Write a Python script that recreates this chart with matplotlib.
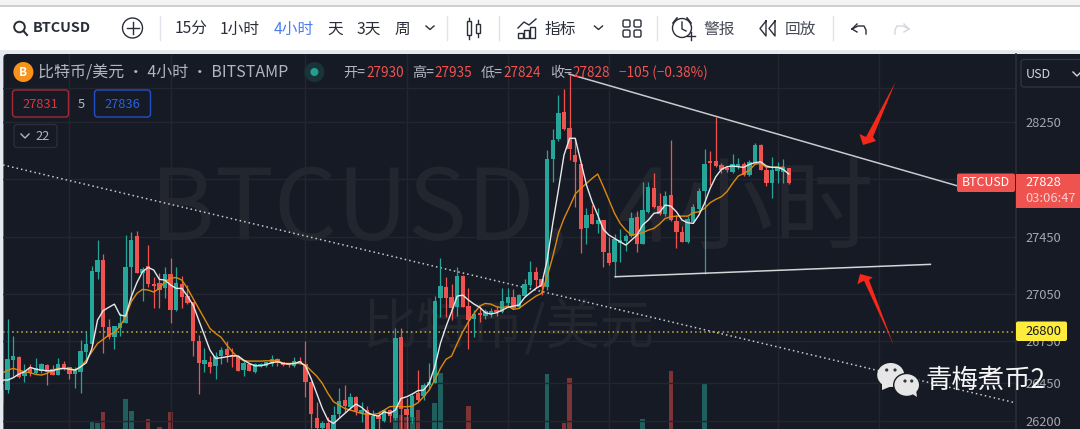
import matplotlib
matplotlib.use('Agg')
import matplotlib.pyplot as plt
from matplotlib.patches import Rectangle, FancyBboxPatch, Circle, Ellipse, Polygon

plt.rcParams['font.family'] = ['Noto Sans CJK SC', 'DejaVu Sans']

# candles, oldest first
opens = [26323, 26410, 26618, 26637, 26506, 26559, 26527, 26543, 26582, 26550, 26513, 26586, 26566, 26520, 26536, 26673, 26726, 27218, 27298, 26843,
         26774, 26833, 26872, 27252, 27467, 27211, 27257, 27138, 27142, 27110, 27206, 26959, 27138, 27055, 27010, 26746, 26589, 26600, 26577, 26644,
         26689, 26650, 26644, 26547, 26589, 26536, 26575, 26575, 26586, 26623, 26598, 26593, 26575, 26609, 26589, 26465, 26216, 26147, 26181, 26113,
         26243, 26339, 26296, 26360, 26255, 26268, 26113, 26232, 26200, 26273, 26216, 26772, 26280, 26227, 26387, 26371, 26444, 26456, 27039, 27113,
         27046, 26978, 27188, 26987, 26895, 26934, 26918, 26930, 26959, 26943, 27010, 27046, 26978, 27058, 27131, 27220, 27170, 27119, 27996, 28133,
         28316, 28206, 28023, 27959, 27522, 27616, 27550, 27575, 27348, 27291, 27417, 27431, 27467, 27598, 27415, 27632, 27797, 27673, 27618, 27744,
         27566, 27495, 27426, 27561, 27650, 27774, 27977, 27977, 27950, 27929, 27907, 27939, 27961, 27884, 27971, 28090, 27920, 27829, 27916, 27909,
         27930]
highs = [26456, 26895, 26783, 26644, 26589, 26589, 26630, 26598, 26589, 26582, 26630, 26611, 26570, 26570, 26753, 26808, 27261, 27440, 27344, 26895,
         26849, 26936, 27474, 27495, 27501, 27252, 27403, 27183, 27211, 27252, 27314, 27252, 27193, 27131, 27010, 26790, 26696, 26644, 26673, 26708,
         26746, 26696, 26650, 26607, 26593, 26593, 26595, 26605, 26648, 26627, 26602, 26598, 26634, 26634, 26746, 26470, 26330, 26200, 26227, 26300,
         26422, 26444, 26392, 26369, 26330, 26300, 26273, 26268, 26277, 26280, 26833, 26833, 26353, 26383, 26547, 26456, 26593, 27055, 27314, 27183,
         27138, 27252, 27200, 27108, 26959, 26987, 26964, 26971, 26987, 27108, 27108, 27101, 27069, 27170, 27298, 27252, 27172, 28058, 28199, 28435,
         28474, 28572, 28138, 27965, 27657, 27680, 27657, 27580, 27463, 27481, 27515, 27481, 27634, 27641, 27836, 27840, 27897, 27760, 27778, 28124,
         27611, 27536, 27604, 27687, 27799, 28062, 28048, 28282, 27966, 27948, 28030, 28003, 27977, 27989, 28103, 28099, 27939, 28007, 27977, 27996,
         27935]
lows = [26296, 26387, 26502, 26490, 26467, 26506, 26520, 26529, 26442, 26513, 26511, 26547, 26488, 26424, 26387, 26616, 26719, 27170, 26662, 26758,
        26692, 26781, 26868, 27028, 27211, 27021, 27119, 26971, 26971, 27039, 26868, 26955, 26971, 27000, 26646, 26383, 26536, 26529, 26488, 26589,
        26605, 26570, 26540, 26506, 26538, 26529, 26570, 26570, 26575, 26575, 26575, 26570, 26570, 26586, 26364, 26147, 26113, 26142, 26113, 26067,
        26227, 26261, 26273, 26239, 26188, 26067, 26090, 26142, 26193, 26193, 26204, 26113, 26113, 26181, 26330, 26341, 26410, 26456, 26913, 26913,
        26891, 26918, 26978, 26694, 26772, 26879, 26895, 26913, 26918, 26936, 26978, 26964, 26971, 27051, 27119, 27108, 27062, 27097, 27840, 28122,
        28195, 27989, 27669, 27353, 27410, 27547, 27490, 27257, 27268, 27188, 27291, 27367, 27463, 27355, 27412, 27627, 27662, 27611, 27604, 27570,
        27383, 27424, 27417, 27554, 27634, 27206, 27817, 27939, 27902, 27909, 27902, 27927, 27879, 27879, 27966, 27918, 27813, 27728, 27829, 27829,
        27824]
closes = [26410, 26621, 26641, 26502, 26531, 26529, 26559, 26584, 26536, 26513, 26589, 26557, 26520, 26547, 26673, 26726, 27222, 27298, 26845, 26776,
          26845, 26870, 27252, 27440, 27215, 27238, 27138, 27126, 27097, 27206, 26959, 27142, 27046, 27005, 26744, 26593, 26611, 26568, 26644, 26680,
          26650, 26639, 26543, 26593, 26543, 26589, 26589, 26598, 26621, 26593, 26584, 26584, 26609, 26589, 26467, 26248, 26147, 26184, 26142, 26236,
          26335, 26300, 26362, 26264, 26273, 26113, 26232, 26209, 26271, 26234, 26762, 26280, 26241, 26369, 26339, 26440, 26465, 27021, 27119, 27039,
          26975, 27193, 26982, 26891, 26932, 26927, 26948, 26948, 26948, 27021, 27046, 26975, 27062, 27135, 27220, 27165, 27119, 27996, 28126, 28309,
          28202, 28067, 27975, 27518, 27611, 27550, 27577, 27360, 27280, 27444, 27440, 27467, 27588, 27415, 27643, 27799, 27666, 27618, 27742, 27575,
          27495, 27424, 27584, 27664, 27776, 27961, 27971, 27948, 27920, 27920, 27961, 27961, 27884, 27975, 28087, 27920, 27829, 27916, 27939, 27939,
          27828]

ma_fast = [26479, 26479, 26495, 26520, 26536, 26566, 26554, 26547, 26543, 26543, 26554, 26559, 26554, 26547, 26570, 26598, 26696, 26891, 26955, 26978,
           27000, 26925, 26918, 27051, 27147, 27222, 27252, 27234, 27170, 27165, 27131, 27108, 27108, 27055, 26994, 26891, 26788, 26685, 26627, 26632,
           26639, 26646, 26644, 26616, 26593, 26577, 26577, 26586, 26598, 26605, 26593, 26589, 26593, 26605, 26575, 26490, 26387, 26284, 26204, 26181,
           26216, 26250, 26284, 26314, 26291, 26257, 26239, 26232, 26261, 26250, 26273, 26353, 26364, 26383, 26406, 26410, 26456, 26570, 26730, 26845,
           26948, 27055, 27062, 27028, 27000, 26978, 26941, 26932, 26941, 26959, 26978, 26987, 26994, 27046, 27078, 27108, 27131, 27302, 27554, 27783,
           28023, 28138, 28138, 27977, 27817, 27703, 27611, 27513, 27474, 27451, 27428, 27405, 27440, 27474, 27543, 27577, 27623, 27630, 27680, 27673,
           27634, 27577, 27559, 27554, 27611, 27691, 27794, 27874, 27925, 27943, 27948, 27943, 27939, 27959, 27971, 27977, 27948, 27939, 27939, 27925,
           27893]
ma_slow = [26525, 26547, 26559, 26547, 26536, 26529, 26518, 26513, 26525, 26547, 26559, 26559, 26559, 26547, 26570, 26616, 26673, 26730, 26758, 26788,
           26804, 26849, 26913, 27016, 27074, 27101, 27097, 27083, 27108, 27154, 27177, 27183, 27165, 27108, 27039, 26971, 26902, 26833, 26799, 26772,
           26719, 26673, 26634, 26611, 26609, 26609, 26609, 26611, 26611, 26616, 26593, 26593, 26593, 26593, 26582, 26543, 26506, 26456, 26387, 26330,
           26307, 26284, 26273, 26261, 26250, 26243, 26243, 26250, 26273, 26296, 26300, 26296, 26296, 26300, 26323, 26364, 26410, 26479, 26559, 26621,
           26644, 26730, 26811, 26879, 26936, 26987, 27005, 27000, 26982, 26975, 26987, 26964, 26971, 27000, 27028, 27055, 27074, 27188, 27325, 27486,
           27588, 27669, 27756, 27794, 27829, 27863, 27893, 27806, 27714, 27623, 27554, 27508, 27474, 27481, 27490, 27508, 27520, 27550, 27588, 27600,
           27604, 27604, 27604, 27627, 27634, 27657, 27696, 27719, 27737, 27772, 27829, 27879, 27897, 27920, 27961, 27966, 27939, 27939, 27939, 27939]

# only the bars that stick up into the visible part
vol_idx = [16, 17, 18, 22, 23, 26, 28, 30, 70, 71, 72, 73, 74, 77, 78, 83, 97, 100, 101, 114, 119, 125]
vol_val = [7, 6, 17, 30, 18, 10, 2, 17, 12, 14, 12, 12, 19, 26, 56, 23, 55, 6, 51, 10, 58, 45]

trend_top = [(100.9, 28579), (169.9, 27813)]
trend_bottom = [(109.1, 27188), (165.2, 27273)]
trend_dotted = [(0.2, 27955), (180.2, 26324)]
alert_level = 26812

# the real scale is not linear, so the labelled levels sit a bit off a straight line
price_labels = ['28500', '28250', '27850', '27450', '27050', '26750', '26450', '26200']
price_levels = [28483, 28250, 27859, 27463, 27070, 26750, 26459, 26200]
grid_idx = [12, 30, 54, 72, 90, 108, 138, 156]

BG = '#161a25'
GRID = '#23262f'
WM = '#23262e'
UP = '#26a69a'
DOWN = '#ef5350'
AXTXT = '#a3a6af'
HDR = '#b2b5be'
INK = '#2a2e39'

W, H = 1080, 429
fig = plt.figure(figsize=(W / 100, H / 100), dpi=100, facecolor='white')


def px_axes(z):
    a = fig.add_axes([0, 0, 1, 1], zorder=z)
    a.set_xlim(0, W)
    a.set_ylim(H, 0)
    a.axis('off')
    a.patch.set_alpha(0)
    return a


# page + chart background + watermarks
back = px_axes(0)
back.add_patch(Rectangle((0, 0), W, 5, color='#f3f3f3', lw=0))
back.add_patch(Rectangle((0, 5), W, 1.5, color='#cfcfd2', lw=0))
back.add_patch(Rectangle((0, 50), W, 379, color='#e6e8ef', lw=0))
back.add_patch(FancyBboxPatch((3.4, 54), W, 400, boxstyle='round,pad=0,rounding_size=4', color=BG, lw=0))
back.text(150, 212, 'BTCUSD', color=WM, fontsize=71, ha='left', va='center')
back.text(541, 212, ',', color=WM, fontsize=71, ha='left', va='center')
back.text(618, 212, '4小时', color=WM, fontsize=72, ha='left', va='center')
back.text(362, 328, '比特币/美元', color=WM, fontsize=39, ha='left', va='center')

# price <-> pixel: 28250 sits at y=122, 6.863 per px
x0, step = 2.0, 5.62
xlim = ((3.4 - x0) / step, (1016 - x0) / step)
ylim = (28250 - (429 - 122) * 6.863, 28250 + (122 - 54) * 6.863)
rect = [3.4 / W, 0, (1016 - 3.4) / W, (429 - 54) / H]

# volume underneath the candles, 1 unit = 1 px tall
axv = fig.add_axes(rect, zorder=1)
axv.patch.set_alpha(0)
axv.set_xlim(xlim)
axv.set_ylim(0, 375)
axv.axis('off')
for i, v in zip(vol_idx, vol_val):
    c = '#1f5f5e' if closes[i] >= opens[i] else '#7d3436'
    axv.bar(i, v, width=0.8, color=c, lw=0)

ax = fig.add_axes(rect, zorder=2)
ax.patch.set_alpha(0)
ax.set_xlim(xlim)
ax.set_ylim(ylim)
for s in ax.spines.values():
    s.set_visible(False)
ax.spines['right'].set_visible(True)
ax.spines['right'].set_color('#2a2e39')
ax.spines['right'].set_linewidth(1.2)
ax.yaxis.tick_right()
ax.set_yticks(price_levels)
ax.set_yticklabels(price_labels, fontsize=9.3, color=AXTXT)
ax.set_xticks(grid_idx)
ax.set_xticklabels([])
ax.tick_params(length=0, pad=6.5)
ax.grid(True, color=GRID, lw=1)
ax.set_axisbelow(True)

n = len(closes)
for i in range(n):
    c = UP if closes[i] >= opens[i] else DOWN
    ax.vlines(i, lows[i], highs[i], color=c, lw=0.9, zorder=3)
    ax.bar(i, abs(closes[i] - opens[i]) + 3, bottom=min(opens[i], closes[i]), width=0.78, color=c, lw=0, zorder=3)

ax.plot(range(len(ma_slow)), ma_slow, color='#dd8a0c', lw=1.0, zorder=4)
ax.plot(range(len(ma_fast)), ma_fast, color='#e8e8ea', lw=1.0, zorder=5)

ax.plot(*zip(*trend_top), color='#c9cace', lw=1.1, zorder=6)
ax.plot(*zip(*trend_bottom), color='#d4d5d8', lw=1.1, zorder=6)
ax.plot(*zip(*trend_dotted), color='#c9cace', lw=1.1, ls=(0, (1, 2)), zorder=2.5)
ax.axhline(alert_level, color='#c9b640', lw=1.1, ls=(0, (1, 2)), zorder=2.5)

# everything pasted on top: toolbar, header, labels, arrows, logo
top = px_axes(3)


def txt(x, y, s, color=INK, size=11.3, ha='left', **kw):
    top.text(x, y, s, color=color, fontsize=size, ha=ha, va='center', **kw)


top.add_patch(Rectangle((0, 6.5), W, 43.5, color='white', lw=0))

# toolbar
top.add_patch(Circle((19.5, 27), 5.3, fill=False, ec=INK, lw=1.4))
top.plot([23.5, 27], [31, 35], color=INK, lw=1.5)
txt(33, 28, 'BTCUSD', size=10.4, fontweight='bold')
top.add_patch(Circle((132.5, 28), 10, fill=False, ec=INK, lw=1))
top.plot([126.5, 138.5], [28, 28], color=INK, lw=1)
top.plot([132.5, 132.5], [22, 34], color=INK, lw=1)
for sx in [160, 447, 499, 657, 833]:
    top.plot([sx, sx], [16, 40], color='#e0e3eb', lw=1)
txt(175, 29, '15分')
txt(220, 29, '1小时')
txt(274, 29, '4小时', color='#4a7df0')
txt(327, 29, '天')
txt(357, 29, '3天')
txt(394, 29, '周')
for cx in [430, 598.5]:
    top.plot([cx - 4, cx, cx + 4], [26, 29.5, 26], color=INK, lw=1)
# candle icon
top.plot([468.5, 468.5], [18, 39], color=INK, lw=1)
top.add_patch(Rectangle((466.5, 21), 4, 14, fc='white', ec=INK, lw=1, zorder=3))
top.plot([478, 478], [20, 37], color=INK, lw=1)
top.add_patch(Rectangle((476, 24), 4, 9, fc='white', ec=INK, lw=1, zorder=3))
# indicator icon
top.plot([518, 524, 529, 536], [28, 22, 25, 19], color=INK, lw=1)
for bx, by in zip([518, 524, 530], [33, 30, 27]):
    top.add_patch(Rectangle((bx, by), 4.5, 38 - by, fill=False, ec=INK, lw=1))
txt(545, 29, '指标')
# layout icon
for gx in [623, 634]:
    for gy in [20, 30]:
        top.add_patch(FancyBboxPatch((gx, gy), 7, 7, boxstyle='round,pad=0,rounding_size=1.5', fill=False, ec=INK, lw=1))
# alarm icon
top.add_patch(Circle((682, 28), 9.5, fill=False, ec=INK, lw=1))
top.plot([682, 682, 686], [22, 29, 31], color=INK, lw=1)
top.plot([673, 677], [23, 18], color=INK, lw=1.2)
top.plot([687, 691], [18, 23], color=INK, lw=1.2)
top.plot([691, 691], [32, 40], color=INK, lw=1)
top.plot([687, 695], [36, 36], color=INK, lw=1)
txt(703, 29, '警报', color='#454956')
# replay icon
top.plot([766, 760, 766, 766], [21, 28.5, 36, 21], color=INK, lw=1)
top.plot([775, 769, 775, 775], [21, 28.5, 36, 21], color=INK, lw=1)
txt(785, 29, '回放', color='#454956')
# undo / redo
top.plot([852, 858, 864, 866, 866], [29, 26, 26, 30, 34], color=INK, lw=1)
top.plot([852, 857], [29, 24], color=INK, lw=1)
top.plot([852, 857], [29, 32], color=INK, lw=1)
top.plot([909, 903, 897, 895, 895], [29, 26, 26, 30, 34], color='#d4d6dc', lw=1)
top.plot([909, 904], [29, 24], color='#d4d6dc', lw=1)
top.plot([909, 904], [29, 32], color='#d4d6dc', lw=1)

# header row
top.add_patch(Circle((23.4, 72), 10, color='#f7931a', lw=0))
txt(23.4, 72, 'B', color='white', size=8.5, ha='center', fontweight='bold')
txt(38.5, 72, '比特币/美元 · 4小时 · BITSTAMP', color=HDR, size=11.5)
top.add_patch(Circle((314.4, 72), 10, color='#1a3338', lw=0))
top.add_patch(Circle((314.4, 72), 4, color='#22a090', lw=0))
for lx, lab, vx, val in [(343, '开=', 366, '27930'), (412.5, '高=', 434.6, '27935'), (481, '低=', 503.5, '27824'), (550, '收=', 572.4, '27828')]:
    txt(lx, 73, lab, color=HDR, size=10.2)
    txt(vx, 73, val, color=DOWN, size=9.8)
txt(619, 73, '−105 (−0.38%)', color=DOWN, size=9.8)

# indicator value boxes
top.add_patch(FancyBboxPatch((12.5, 90), 56, 27, boxstyle='round,pad=0,rounding_size=3', fill=False, ec='#a52a35', lw=1))
txt(40.5, 104, '27831', color='#d9363f', size=9.3, ha='center')
txt(81, 104, '5', color=HDR, size=9.3, ha='center')
top.add_patch(FancyBboxPatch((94.5, 90), 56, 27, boxstyle='round,pad=0,rounding_size=3', fill=False, ec='#2150c8', lw=1))
txt(122.5, 104, '27836', color='#2a62e0', size=9.3, ha='center')
top.add_patch(FancyBboxPatch((14, 124.5), 43, 23, boxstyle='round,pad=0,rounding_size=3', fill=False, ec='#2a2e39', lw=1))
top.plot([21, 25, 29], [134, 138, 134], color=HDR, lw=1)
txt(35, 136, '22', color=HDR, size=9.3)

# price scale bits
top.add_patch(Rectangle((1017, 87), 63, 5.5, color=BG, lw=0))
top.add_patch(FancyBboxPatch((1021, 59.5), 80, 27.5, boxstyle='round,pad=0,rounding_size=3', fc=BG, ec='#2f333e', lw=1))
txt(1025.5, 74, 'USD', color='#d1d4dc', size=9, fontweight='medium')
top.plot([1073, 1077, 1081], [72, 76, 72], color='#d1d4dc', lw=1)
top.add_patch(FancyBboxPatch((957, 173.5), 58, 18.5, boxstyle='round,pad=0,rounding_size=2', color=DOWN, lw=0))
txt(986, 183, 'BTCUSD', color='white', size=8.9, ha='center')
top.add_patch(Rectangle((1016, 173.5), 64, 34.5, color=DOWN, lw=0))
txt(1025, 183, '27828', color='white', size=9.3)
txt(1025, 198, '03:06:47', color='#f9d0ce', size=9.3)
top.add_patch(FancyBboxPatch((1016, 321.5), 51, 19.5, boxstyle='round,pad=0,rounding_size=2', color='#ffeb3b', lw=0))
txt(1025.5, 331.5, '26800', color='#131722', size=9.3)

# red arrows
RED = '#f5291a'
top.add_patch(Polygon([(895.5, 82), (873, 137), (876, 141), (863, 145), (859.5, 134), (866, 137)], color=RED, lw=0))
top.add_patch(Polygon([(860, 274), (872.7, 277.3), (869, 280), (893.7, 345), (864, 280.7), (857.3, 284.3)], color=RED, lw=0))

# wechat logo
LOGO = '#e6e6e6'
top.add_patch(Ellipse((890.7, 375), 27, 24, color=LOGO, lw=0))
top.add_patch(Polygon([(882, 383), (882, 390), (892, 386)], color=LOGO, lw=0))
top.add_patch(Ellipse((906.7, 385), 26, 23, fc=LOGO, ec=BG, lw=1))
top.add_patch(Polygon([(911, 393), (917, 397), (916, 390)], color=LOGO, lw=0))
for ex, ey in [(886.7, 370), (895, 370), (905, 381), (911.7, 381)]:
    top.add_patch(Circle((ex, ey), 1.6, color='#33363f', lw=0))
txt(925, 380, '青梅煮币2', color='#f5f5f5', size=19)

fig.savefig('out.png', dpi=100)
